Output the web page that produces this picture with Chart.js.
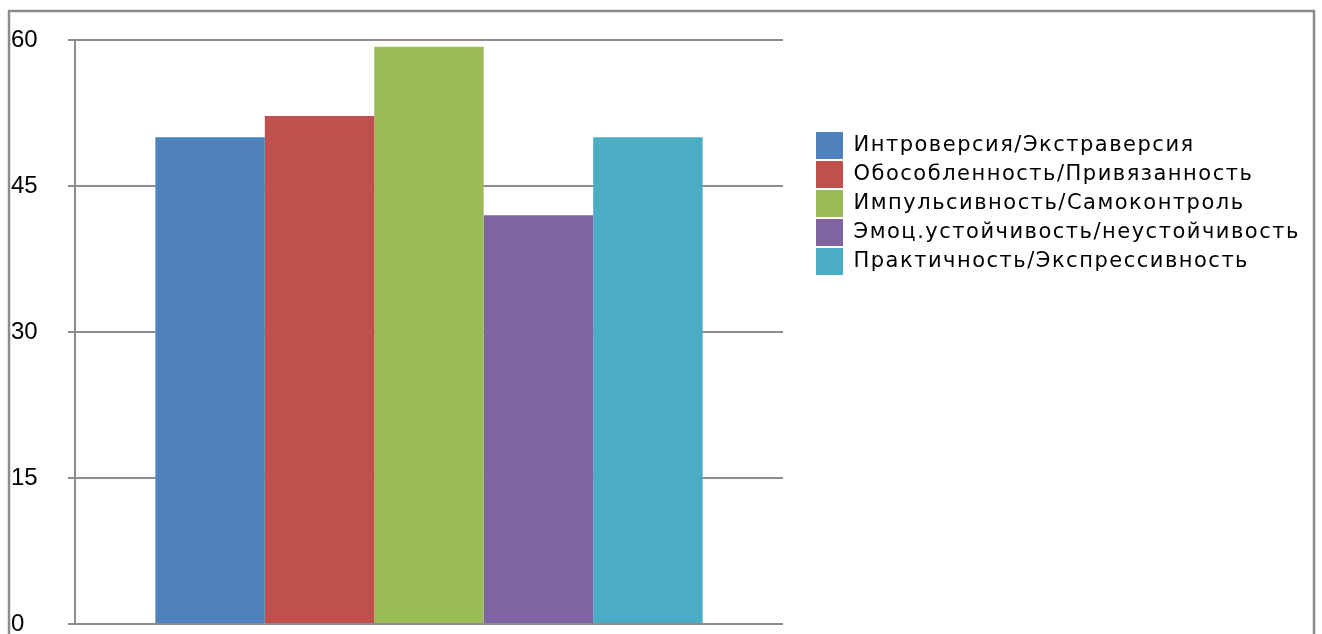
<!DOCTYPE html>
<html>
<head>
<meta charset="utf-8">
<script src="https://cdn.jsdelivr.net/npm/chart.js@4"></script>
<style>
  html, body { margin: 0; padding: 0; background: #fff; }
  #wrap { width: 1322px; height: 634px; }
</style>
</head>
<body>
<div id="wrap"><canvas id="c" width="1322" height="634"></canvas></div>
<script>
const categories = [''];
const seriesNames = [
  'Интроверсия/Экстраверсия',
  'Обособленность/Привязанность',
  'Импульсивность/Самоконтроль',
  'Эмоц.устойчивость/неустойчивость',
  'Практичность/Экспрессивность'
];
const seriesValues = [50, 52.2, 59.3, 42, 50];
const seriesColors = ['#4F81BD', '#C0504D', '#9BBB59', '#8064A2', '#4BACC6'];
const yTicks = [0, 15, 30, 45, 60];

const GRID = '#8c8c8c';

const frame = {
  id: 'frame',
  beforeDraw(chart) {
    const ctx = chart.ctx;
    ctx.save();
    ctx.strokeStyle = GRID;
    ctx.lineWidth = 2.5;
    ctx.strokeRect(9, 11, 1305, 700);
    ctx.restore();
  }
};

const legendFix = {
  id: 'legendFix',
  beforeLayout(chart) {
    const lg = chart.legend;
    if (lg && !lg._patched) {
      const f = lg.fit.bind(lg);
      lg.fit = function () { f(); this.width = 1322 - 783; };
      const d = lg.draw.bind(lg);
      lg.draw = function () {
        const ctx = this.ctx;
        ctx.save();
        ctx.letterSpacing = '1.5px';
        d();
        ctx.restore();
      };
      lg._patched = true;
    }
  },
  afterLayout(chart) {
    const lg = chart.legend;
    lg.left = 816 - 2;
    lg.top = 132 - 2;
  }
};

new Chart(document.getElementById('c'), {
  type: 'bar',
  data: {
    labels: categories,
    datasets: seriesNames.map((n, i) => ({
      label: n,
      data: [seriesValues[i]],
      backgroundColor: seriesColors[i],
      borderColor: seriesColors[i],
      borderWidth: 0
    }))
  },
  options: {
    responsive: false,
    animation: false,
    devicePixelRatio: 1,
    layout: { padding: { left: 11, top: 40, bottom: 10, right: 0 } },
    datasets: { bar: { categoryPercentage: 0.773, barPercentage: 1 } },
    scales: {
      x: { display: false },
      y: {
        min: 0, max: 60,
        afterBuildTicks(scale) { scale.ticks = yTicks.map(v => ({ value: v })); },
        afterFit(scale) { scale.width = 64; scale.paddingTop = 0; scale.paddingBottom = 0; },
        ticks: {
          crossAlign: 'far',
          color: '#000',
          font: { family: 'Liberation Sans', size: 24 },
          padding: 0
        },
        grid: { color: GRID, lineWidth: 2, tickLength: 7, tickColor: GRID },
        border: { color: GRID, width: 2 }
      }
    },
    plugins: {
      legend: {
        display: true,
        position: 'right',
        align: 'start',
        labels: {
          boxWidth: 27, boxHeight: 27, padding: 2,
          color: '#000',
          font: { family: 'DejaVu Sans', size: 21 }
        }
      },
      tooltip: { enabled: false }
    }
  },
  plugins: [frame, legendFix]
});
</script>
</body>
</html>
